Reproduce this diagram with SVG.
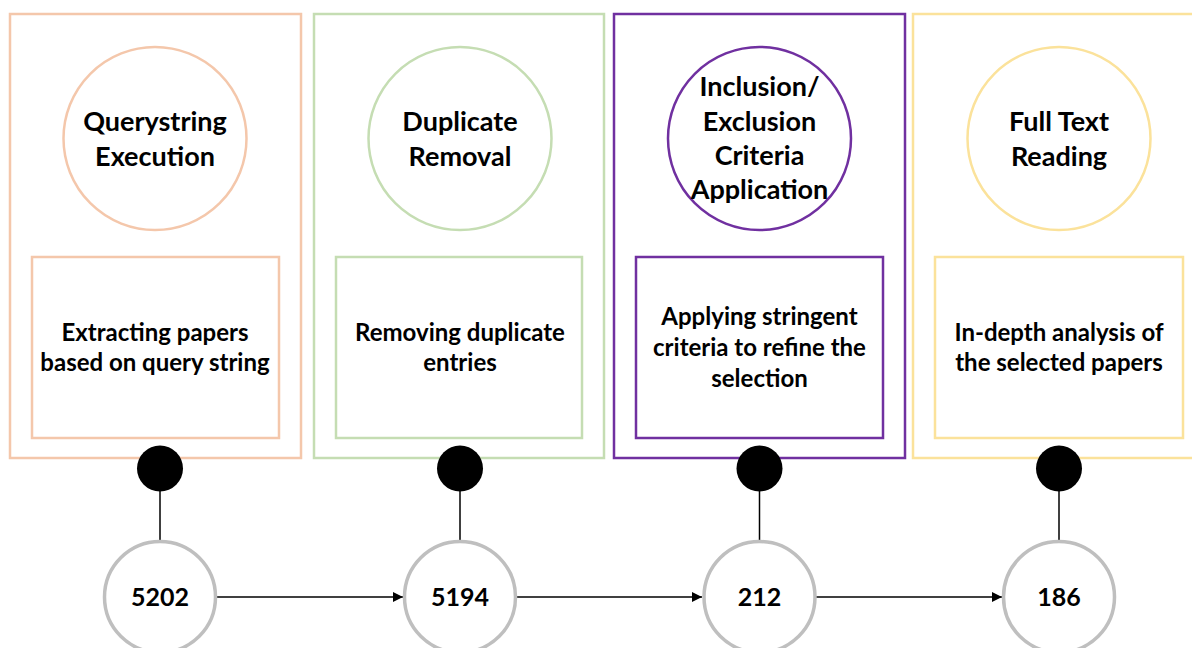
<svg xmlns="http://www.w3.org/2000/svg" width="1192" height="648" viewBox="0 0 1192 648">
<defs>
<marker id="arr" viewBox="0 0 10 10" refX="10" refY="5" markerWidth="10" markerHeight="10" markerUnits="userSpaceOnUse" orient="auto">
<path d="M0,0 L10,5 L0,10 z" fill="#000"/>
</marker>
<style>
.panel{fill:#fff;stroke-width:2.5}
.title{font-family:Lato,"Open Sans","Liberation Sans",sans-serif;font-weight:bold;font-size:27px;fill:#000;text-anchor:middle}
.desc{font-family:Lato,"Open Sans","Liberation Sans",sans-serif;font-weight:bold;font-size:24px;fill:#000;text-anchor:middle}
.num{font-family:Lato,"Open Sans","Liberation Sans",sans-serif;font-weight:bold;font-size:25px;fill:#000;text-anchor:middle}
.dot{fill:#000}
.count{fill:#fff;stroke:#BFBFBF;stroke-width:3.5}
.link{stroke:#000;stroke-width:1.5;fill:none}
.p1{stroke:#F4C7AB}.p2{stroke:#C5DDB3}.p3{stroke:#7030A0}.p4{stroke:#FBE29B}
</style>
</defs>
<rect width="1192" height="648" fill="#fff"/>

<g id="stage1">
<rect class="panel p1" x="10" y="14" width="291" height="444"/>
<circle class="panel p1" cx="155" cy="138.5" r="91.5"/>
<text class="title" x="155" y="131">Querystring</text>
<text class="title" x="155" y="166">Execution</text>
<rect class="panel p1" x="32" y="257" width="247" height="181"/>
<text class="desc" x="155" y="341">Extracting papers</text>
<text class="desc" x="155" y="371">based on query string</text>
</g>

<g id="stage2">
<rect class="panel p2" x="314" y="14" width="290" height="444"/>
<circle class="panel p2" cx="460" cy="138.5" r="91.5"/>
<text class="title" x="460" y="131">Duplicate</text>
<text class="title" x="460" y="166">Removal</text>
<rect class="panel p2" x="336" y="257" width="246" height="181"/>
<text class="desc" x="460" y="341">Removing duplicate</text>
<text class="desc" x="460" y="371">entries</text>
</g>

<g id="stage3">
<rect class="panel p3" x="614" y="14" width="291" height="444"/>
<circle class="panel p3" cx="759.5" cy="138.5" r="91.5" stroke-width="3.5"/>
<text class="title" x="759.5" y="96">Inclusion/</text>
<text class="title" x="759.5" y="131">Exclusion</text>
<text class="title" x="759.5" y="165">Criteria</text>
<text class="title" x="759.5" y="199">Application</text>
<rect class="panel p3" x="636" y="257" width="247" height="181"/>
<text class="desc" x="759.5" y="325">Applying stringent</text>
<text class="desc" x="759.5" y="356">criteria to refine the</text>
<text class="desc" x="759.5" y="387">selection</text>
</g>

<g id="stage4">
<rect class="panel p4" x="913" y="14" width="291" height="444"/>
<circle class="panel p4" cx="1059" cy="138.5" r="91.5"/>
<text class="title" x="1059" y="131">Full Text</text>
<text class="title" x="1059" y="166">Reading</text>
<rect class="panel p4" x="935" y="257" width="248" height="181"/>
<text class="desc" x="1059" y="341">In-depth analysis of</text>
<text class="desc" x="1059" y="371">the selected papers</text>
</g>

<g id="connectors">
<line class="link" x1="160" y1="468" x2="160" y2="541"/>
<line class="link" x1="460" y1="468" x2="460" y2="541"/>
<line class="link" x1="759.5" y1="468" x2="759.5" y2="541"/>
<line class="link" x1="1059" y1="468" x2="1059" y2="541"/>
<line class="link" x1="216" y1="597" x2="403" y2="597" marker-end="url(#arr)"/>
<line class="link" x1="516" y1="597" x2="702" y2="597" marker-end="url(#arr)"/>
<line class="link" x1="816" y1="597" x2="1002" y2="597" marker-end="url(#arr)"/>
</g>

<g id="dot1"><circle class="dot" cx="160" cy="468.5" r="23"/></g>
<g id="dot2"><circle class="dot" cx="460" cy="468.5" r="23"/></g>
<g id="dot3"><circle class="dot" cx="759.5" cy="468.5" r="23"/></g>
<g id="dot4"><circle class="dot" cx="1059" cy="468.5" r="23"/></g>

<g id="count1"><circle class="count" cx="160" cy="597" r="55.5"/><text class="num" x="160" y="606">5202</text></g>
<g id="count2"><circle class="count" cx="460" cy="597" r="55.5"/><text class="num" x="460" y="606">5194</text></g>
<g id="count3"><circle class="count" cx="759.5" cy="597" r="55.5"/><text class="num" x="759.5" y="606">212</text></g>
<g id="count4"><circle class="count" cx="1059" cy="597" r="55.5"/><text class="num" x="1059" y="606">186</text></g>
</svg>
